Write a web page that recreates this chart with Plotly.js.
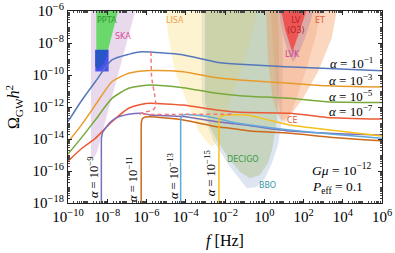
<!DOCTYPE html>
<html><head><meta charset="utf-8">
<script src="https://cdn.plot.ly/plotly-3.0.1.min.js"></script>
<style>html,body{margin:0;padding:0;background:#fff}</style>
</head><body><div id="chart" style="width:395px;height:253px"></div>
<script>
// ---- values are log10(f/Hz) and log10(Omega h^2) ----
// spectra for G mu = 1e-12, P_eff = 0.1
const a1_f = [-10, -9.39, -8.61, -7.76, -6.91, -6.23, -5.82, -4.12, -2.42, -1.23, 1.08, 2.94, 6];
const a1_o = [-12.92, -11.75, -10.42, -9.06, -8.71, -8.55, -8.57, -8.75, -9.2, -9.33, -9.48, -9.58, -9.73];
const a3_f = [-10, -9.3, -8.61, -7.76, -6.91, -6.23, -5.82, -4.14, -2.42, -1.23, 1.31, 3.18, 6];
const a3_o = [-14.19, -13.1, -11.88, -10.42, -9.89, -9.75, -9.72, -9.79, -10.17, -10.31, -10.52, -10.67, -10.75];
const a5_f = [-10, -9.3, -8.61, -7.76, -6.91, -6.23, -5.82, -4.14, -2.42, -1.23, 1.31, 3.18, 6];
const a5_o = [-14.94, -13.9, -12.81, -11.46, -10.83, -10.67, -10.63, -10.79, -11.14, -11.29, -11.46, -11.67, -11.72];
const a7_f = [-10, -9.29, -8.61, -7.76, -6.91, -6.23, -5.82, -4.14, -2.42, -1.23, 1.31, 3.18, 6];
const a7_o = [-15.38, -14.58, -13.96, -12.92, -12.08, -11.83, -11.77, -11.88, -12.19, -12.33, -12.39, -12.65, -12.75];
const a9_f = [-8.30, -8.30, -8.29, -8.22, -8.1, -7.85, -7.59, -6.91, -6.23, -5.82, -4.14, -2.42, -0.73, 1.31, 3.5, 6];
const a9_o = [-19, -14.5, -13.9, -13.55, -13.33, -12.95, -12.71, -12.46, -12.39, -12.5, -12.6, -12.92, -13.17, -13.5, -13.65, -13.75];
const a11_f = [-6.27, -6.27, -6.26, -6.2, -6.05, -5.82, -4.12, -2.42, -1.75, -0.73, 1.31, 3.5, 6];
const a11_o = [-19, -13.3, -12.95, -12.72, -12.63, -12.61, -12.81, -13.23, -13.33, -13.5, -13.64, -13.9, -14.11];
const a13_f = [-4.26, -4.26, -4.25, -4.17, -4.0, -3.5, -2.42, -1.75, -0.73, 1.31, 3.5, 6];
const a13_o = [-19, -12.95, -12.7, -12.53, -12.47, -12.5, -12.71, -12.92, -13.125, -13.44, -13.7, -13.96];
const a15_f = [-2.31, -2.31, -2.30, -2.22, -2.0, -0.88, 0.14, 1.31, 3.35, 6];
const a15_o = [-19, -13.0, -12.8, -12.58, -12.5, -12.5, -12.79, -13.125, -13.44, -13.81];
const peak_f = [-5.77, -5.74, -5.57, -5.52, -5.67, -5.99, -6.33, -4.0, -1.59];
const peak_o = [-8.54, -10.11, -11.36, -11.94, -12.19, -12.29, -12.44, -12.46, -12.46];

// sensitivity regions
const ska_f = [-8.83, -6.35, -8.52, -8.78, -8.83];
const ska_o = [-5, -5, -14.79, -15.42, -15.0];
const ppta_f = [-8.558, -7.42, -7.45, -7.707, -7.962, -8.558];
const ppta_o = [-5.5, -5.5, -6, -7.19, -8.44, -8.44];
const nano_f = [-8.61, -7.93, -7.93, -8.61];
const nano_o = [-8.42, -8.42, -9.78, -9.78];
const nanoIn_f = [-8.609, -7.962, -8.013, -8.166, -8.369, -8.522, -8.609];
const nanoIn_o = [-8.44, -8.44, -8.81, -9.25, -9.56, -9.625, -9.44];
const lisa_f = [-5.05, -5.006, -4.904, -4.548, -3.885, -3.376, -3.019, -2.662, -2.459, -2.204, -1.847, -1.338, -0.777, -0.369, -0.32];
const lisa_o = [-5, -6, -7.5, -9.79, -11.875, -13.44, -14.06, -14.5, -14.25, -13.31, -11.875, -10.31, -8.125, -6, -5];
const decigo_f = [-3.02, -3.019, -2.815, -2.423, -1.745, -1.236, -0.726, -0.217, 0.191, 0.395, 0.650, 0.752, 0.752, 0.701, 0.65];
const decigo_o = [-5, -11.56, -13.125, -14.06, -15.31, -16.06, -16.46, -16.25, -15.5, -14.69, -12.81, -10.31, -7.81, -6, -5];
const bbo_f = [-3.19, -3.188, -3.019, -2.611, -1.745, -1.236, -0.894, -0.385, 0.038, 0.395, 0.701, 0.904, 0.955, 0.904, 0.9];
const bbo_o = [-5, -11.56, -12.81, -14.06, -15.73, -16.56, -17.08, -17.0, -16.44, -15.5, -14.375, -12.81, -9.06, -6, -5];
const et_f = [0.09, 0.089, 0.191, 0.395, 0.650, 0.889, 1.159, 1.465, 1.975, 2.739, 3.437, 3.692, 3.76];
const et_o = [-5, -6, -9.06, -11.25, -12.375, -12.875, -12.69, -12.29, -11.46, -9.79, -7.71, -6, -5];
const ce_f = [0.293, 0.344, 0.497, 0.701, 0.955, 1.21, 1.618, 2.127, 2.637, 2.892, 2.94];
const ce_o = [-5, -6, -9.06, -11.56, -13.06, -12.81, -11.56, -9.69, -7.5, -6, -5];
const lvk_f = [0.752, 0.752, 0.955, 1.21, 1.465, 1.72, 2.076, 2.382, 2.484, 2.535];
const lvk_o = [-5, -6, -7.5, -8.56, -9.19, -8.75, -7.69, -6.56, -6, -5];
const lv_f = [0.866, 0.866, 1.07, 1.427, 1.733, 2.038, 2.14, 2.16];
const lv_o = [-5, -6, -7.19, -8.56, -7.5, -6.44, -6, -5];

// ticks
const xTickExp = [-10, -8, -6, -4, -2, 0, 2, 4, 6];
const yTickExp = [-18, -16, -14, -12, -10, -8, -6];

const P = a => a.map(v => Math.pow(10, v));
const lab = e => '10<sup>' + (e < 0 ? '\u2212' + (-e) : e) + '</sup>';

function region(f, o, fill) {
  return {x: P(f), y: P(o), mode: 'lines', fill: 'toself', fillcolor: fill,
          line: {width: 0, color: 'rgba(0,0,0,0)'}, hoverinfo: 'skip', showlegend: false};
}
function curve(f, o, color, extra) {
  return Object.assign({x: P(f), y: P(o), mode: 'lines',
          line: {color: color, width: 1.5, shape: 'spline', smoothing: 0.6},
          hoverinfo: 'skip', showlegend: false}, extra || {});
}

const traces = [
  region(bbo_f, bbo_o, 'rgba(170,190,225,0.4)'),
  region(lisa_f, lisa_o, 'rgba(253,222,125,0.36)'),
  region(decigo_f, decigo_o, 'rgba(170,190,130,0.45)'),
  region(et_f, et_o, 'rgba(245,150,90,0.38)'),
  region(ce_f, ce_o, 'rgba(235,140,90,0.25)'),
  region(lvk_f, lvk_o, 'rgba(185,130,165,0.42)'),
  region(lv_f, lv_o, 'rgba(240,70,70,0.85)'),
  region(ska_f, ska_o, 'rgba(190,150,200,0.35)'),
  region(ppta_f, ppta_o, 'rgb(106,216,106)'),
  region(nano_f, nano_o, 'rgb(80,80,240)'),
  region(nanoIn_f, nanoIn_o, 'rgb(40,85,200)'),
  curve(a1_f, a1_o, '#5577bb'),
  curve(a3_f, a3_o, '#e99b2a'),
  curve(a5_f, a5_o, '#78a93a'),
  curve(a7_f, a7_o, '#ec5a35'),
  curve(a9_f, a9_o, '#7d6dbd'),
  curve(a11_f, a11_o, '#cc6a1a'),
  curve(a13_f, a13_o, '#5fa8d8'),
  curve(a15_f, a15_o, '#f7c11a'),
  curve(peak_f, peak_o, '#f37a7a', {line: {color: '#f37a7a', width: 1.5, dash: '4px,3px', shape: 'spline', smoothing: 0.5}})
];

const serif = 'Liberation Serif, Times New Roman, serif';
const sans = 'DejaVu Sans, Arial, sans-serif';
function note(x, y, text, color, size, fam, extra) {
  return Object.assign({xref: 'paper', yref: 'paper', x: x, y: y, text: text, showarrow: false,
    font: {family: fam || sans, size: size || 8, color: color || '#000'}, xanchor: 'center', yanchor: 'middle'}, extra || {});
}
const annotations = [
  note(0.124, 0.948, 'PPTA', '#2f9a2f'),
  note(0.1736, 0.8646, 'SKA', '#dd4a9b'),
  note(0.3408, 0.948, 'LISA', '#f0a050'),
  note(0.7277, 0.927, 'LV<br>(O3)', '#b32424', 8),
  note(0.8025, 0.948, 'ET', '#e0603f'),
  note(0.7134, 0.771, 'LVK', '#cc3f99'),
  note(0.7134, 0.432, 'CE', '#e0603a'),
  note(0.5583, 0.2276, 'DECIGO', '#3d9a3d'),
  note(0.636, 0.09375, 'BBO', '#3a9aaa'),
  note(0.9777, 0.729, '<i>α</i> = 10<sup>\u22121</sup>', '#000', 13, serif, {xanchor: 'right'}),
  note(0.9777, 0.6406, '<i>α</i> = 10<sup>\u22123</sup>', '#000', 13, serif, {xanchor: 'right'}),
  note(0.9777, 0.557, '<i>α</i> = 10<sup>\u22125</sup>', '#000', 13, serif, {xanchor: 'right'}),
  note(0.9777, 0.479, '<i>α</i> = 10<sup>\u22127</sup>', '#000', 13, serif, {xanchor: 'right'}),
  note(0.0796, 0.135, '<i>α</i> = 10<sup>\u22129</sup>', '#000', 12.5, serif, {textangle: -90}),
  note(0.2038, 0.125, '<i>α</i> = 10<sup>\u221211</sup>', '#000', 12.5, serif, {textangle: -90}),
  note(0.3344, 0.14, '<i>α</i> = 10<sup>\u221213</sup>', '#000', 12.5, serif, {textangle: -90}),
  note(0.4522, 0.16, '<i>α</i> = 10<sup>\u221215</sup>', '#000', 12.5, serif, {textangle: -90}),
  note(0.7707, 0.172, '<i>Gμ</i> = 10<sup>\u221212</sup>', '#000', 13.5, serif, {xanchor: 'left'}),
  note(0.7707, 0.0833, '<i>P</i><sub>eff</sub> = 0.1', '#000', 13.5, serif, {xanchor: 'left'})
];

const axisCommon = {
  type: 'log', showgrid: false, zeroline: false, showline: true, linecolor: '#222', linewidth: 1,
  mirror: 'allticks', ticks: 'inside', ticklen: 4, tickcolor: '#222', tickmode: 'array',
  tickfont: {family: serif, size: 15, color: '#000'},
  minor: {ticks: 'inside', ticklen: 2, tickcolor: '#444', dtick: 'D1', showgrid: false}
};
const layout = {
  width: 395, height: 253, margin: {l: 68, r: 13, t: 11, b: 50},
  paper_bgcolor: '#fff', plot_bgcolor: '#fff', showlegend: false,
  xaxis: Object.assign({}, axisCommon, {range: [-10, 6], tickvals: P(xTickExp), ticktext: xTickExp.map(lab),
    title: {text: '<i>f</i> [Hz]', font: {family: serif, size: 16, color: '#000'}, standoff: 10}}),
  yaxis: Object.assign({}, axisCommon, {range: [-18, -6], tickvals: P(yTickExp), ticktext: yTickExp.map(lab),
    title: {text: 'Ω<sub>GW</sub><i>h</i><sup>2</sup>', font: {family: serif, size: 16, color: '#000'}, standoff: 8}}),
  annotations: annotations
};
Plotly.newPlot('chart', traces, layout, {staticPlot: true, displayModeBar: false});
</script></body></html>
